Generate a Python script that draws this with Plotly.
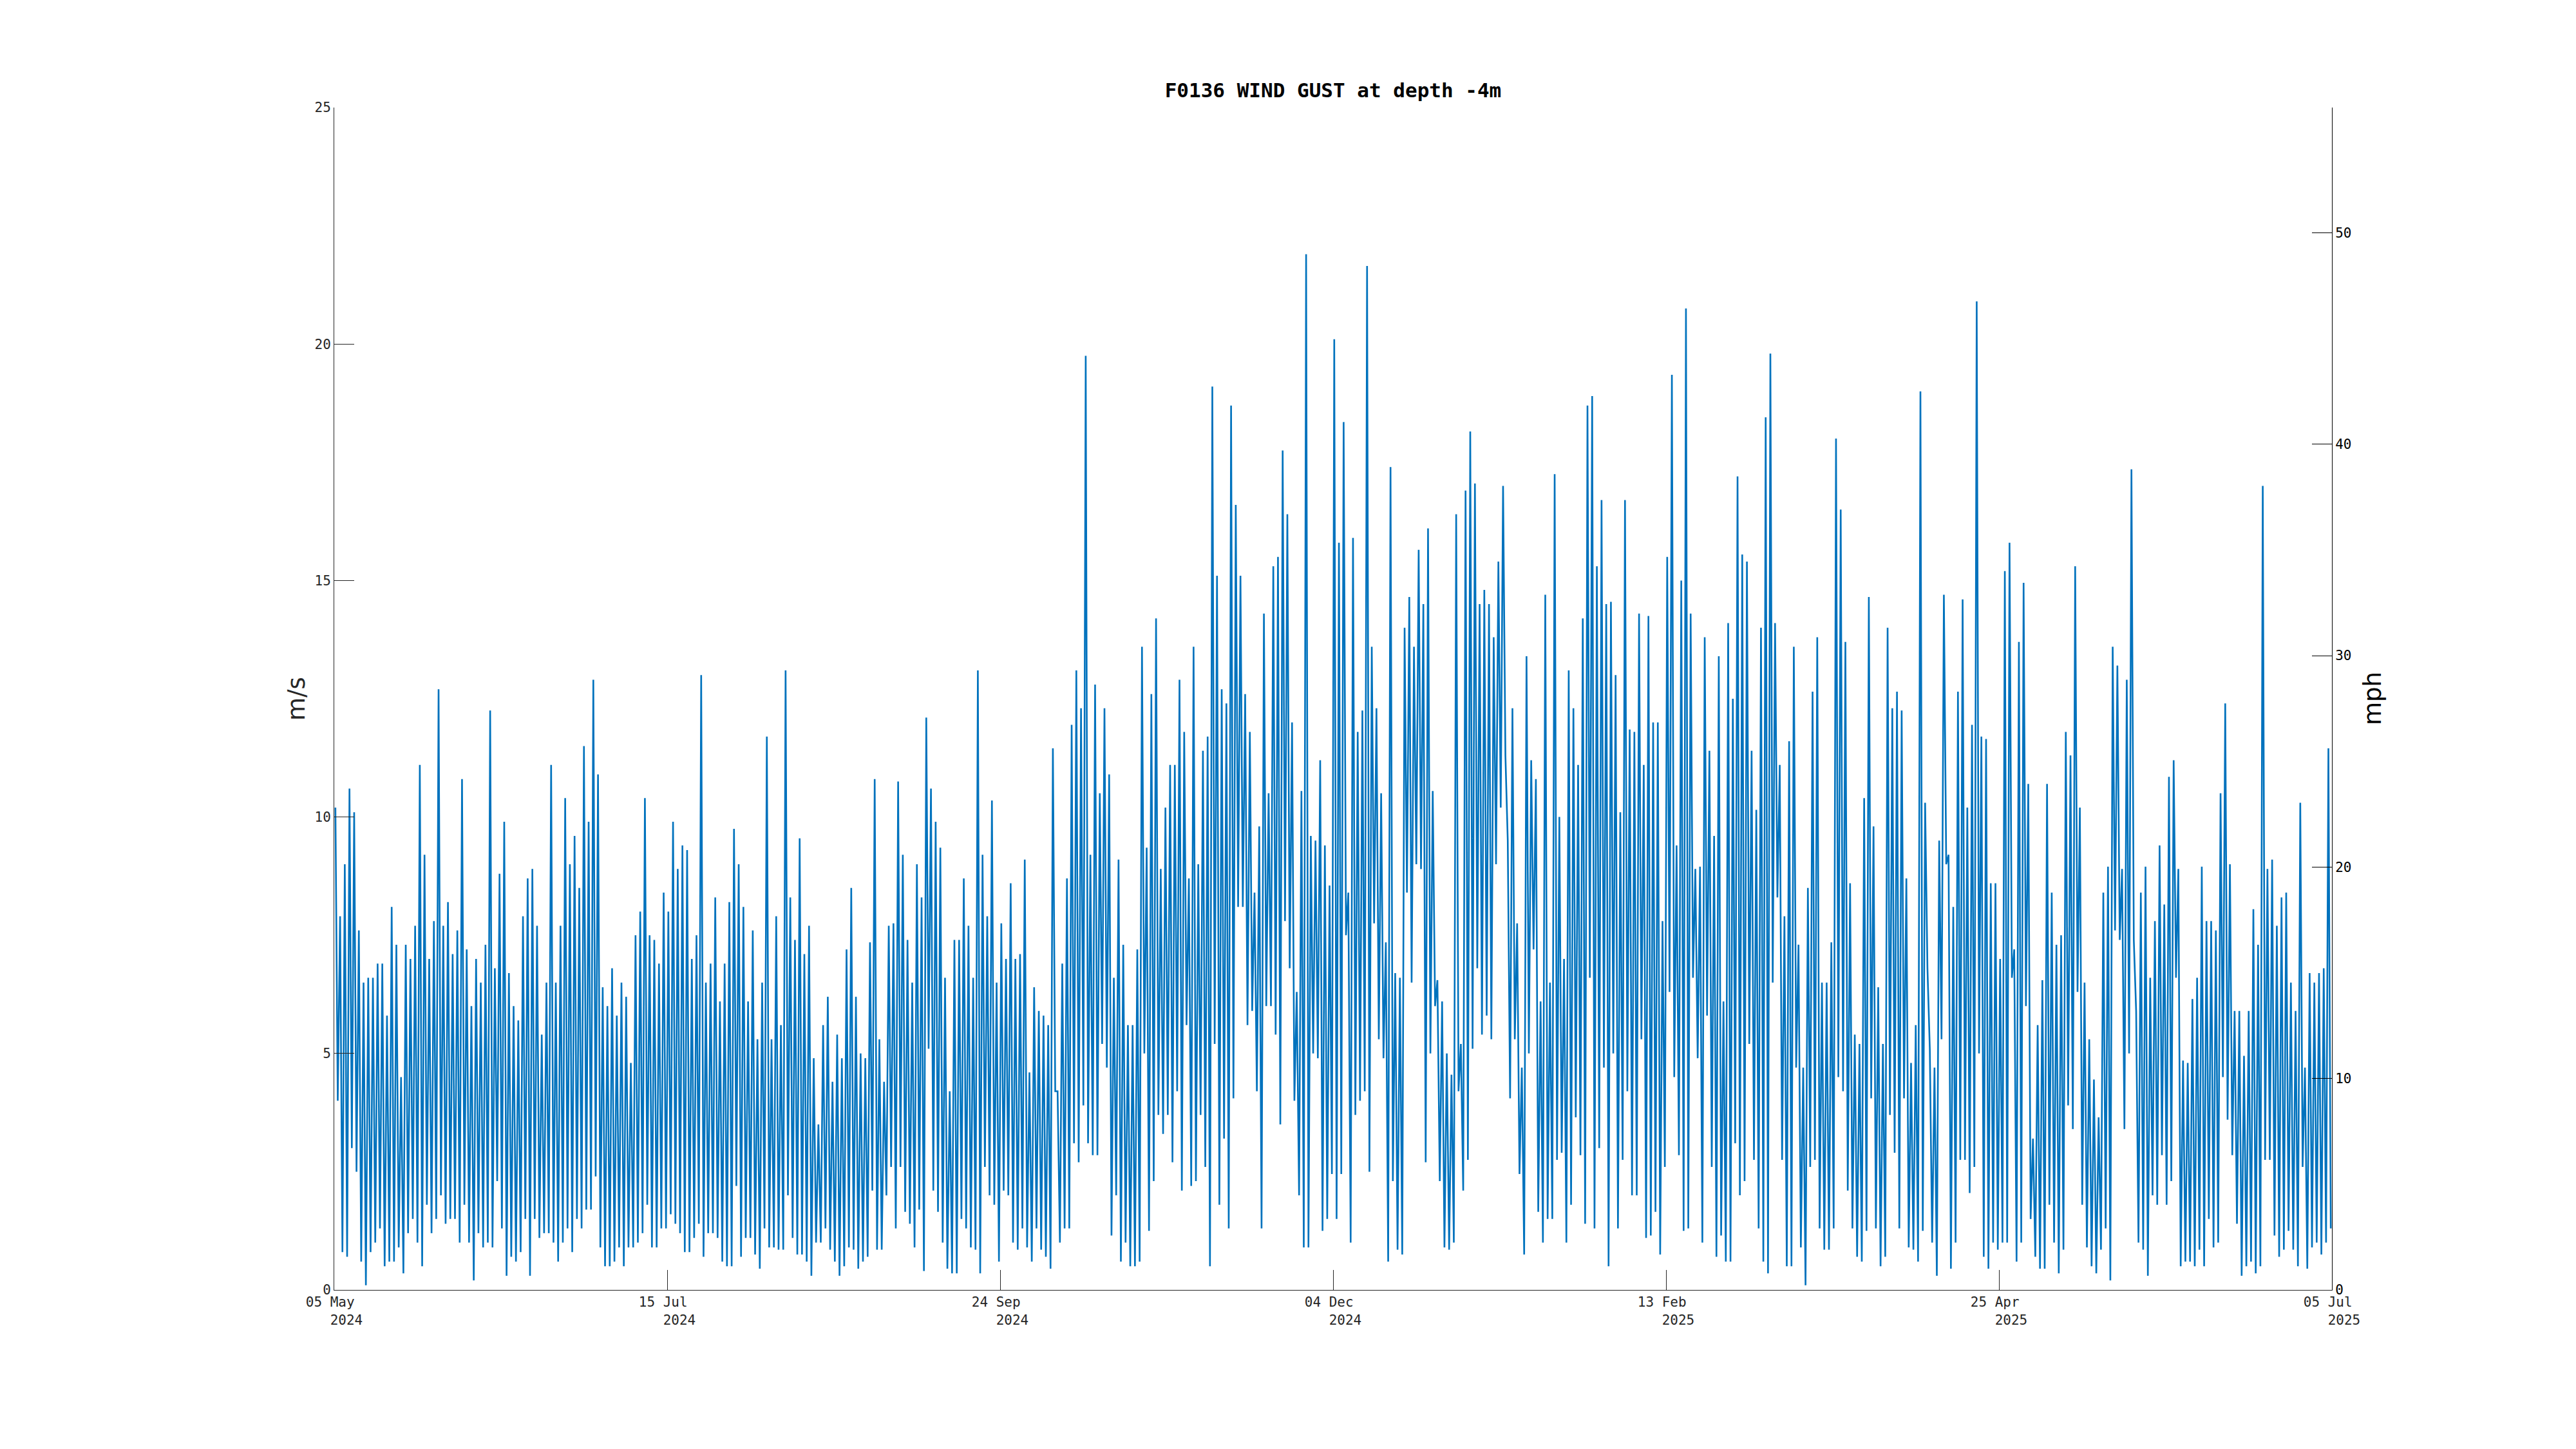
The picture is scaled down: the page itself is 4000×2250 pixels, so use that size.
import plotly.graph_objects as go
import pandas as pd

# ---------------- data: daily high / low wind gust (m/s) ----------------
hi_2024_05 = [10.2, 7.9, 9.0, 10.6, 10.1, 7.6, 6.5, 6.6, 6.6, 6.9, 6.9, 5.8, 8.1, 7.3, 4.5, 7.3, 7.0, 7.7, 11.1, 9.2,
              7.0, 7.8, 12.7, 7.7, 8.2, 7.1, 7.6]
lo_2024_05 = [4.0, 0.8, 0.7, 3.0, 2.5, 0.6, 0.1, 0.8, 1.0, 1.3, 0.5, 0.6, 0.6, 0.9, 0.35, 1.2, 1.5, 1.0, 0.5, 1.8,
              1.2, 1.5, 2.0, 1.4, 1.5, 1.5, 1.0]
hi_2024_06 = [10.8, 7.2, 6.0, 7.0, 6.5, 7.3, 12.25, 6.8, 8.8, 9.9, 6.7, 6.0, 5.7, 7.9, 8.7, 8.9, 7.7, 5.4, 6.5, 11.1,
              6.5, 7.7, 10.4, 9.0, 9.6, 8.5, 11.5, 9.9, 12.9, 10.9]
lo_2024_06 = [1.8, 1.0, 0.2, 1.2, 0.9, 1.0, 0.9, 2.3, 1.3, 0.3, 0.7, 0.6, 0.8, 1.5, 0.3, 1.5, 1.1, 1.2, 1.2, 1.0,
              0.6, 1.0, 1.3, 0.8, 1.5, 1.3, 1.7, 1.7, 2.4, 0.9]
hi_2024_07 = [6.4, 6.0, 6.8, 5.8, 6.5, 6.2, 4.8, 7.5, 8.0, 10.4, 7.5, 7.4, 6.9, 8.4, 8.0, 9.9, 8.9, 9.4, 9.3, 7.0,
              7.5, 13.0, 6.5, 6.9, 8.3, 6.1, 6.9, 8.2, 9.75, 9.0, 8.1]
lo_2024_07 = [0.5, 0.5, 0.6, 0.9, 0.5, 0.9, 0.9, 1.0, 1.2, 1.8, 0.9, 0.9, 1.3, 1.3, 1.6, 1.4, 1.2, 0.8, 0.8, 1.1,
              1.4, 0.7, 1.2, 1.2, 1.1, 0.6, 0.5, 0.5, 2.2, 0.7, 1.1]
hi_2024_08 = [6.1, 7.6, 5.3, 6.5, 11.7, 5.3, 7.9, 5.6, 13.1, 8.3, 7.4, 9.55, 7.1, 7.7, 4.9, 3.5, 5.6, 6.2, 4.4, 5.4,
              4.9, 7.2, 8.5, 6.2, 5.0, 4.9, 7.35, 10.8, 5.3, 4.4, 7.7]
lo_2024_08 = [1.1, 0.75, 0.45, 1.3, 0.9, 0.9, 0.85, 0.85, 2.0, 1.1, 0.75, 0.75, 0.6, 0.3, 1.0, 1.0, 1.3, 0.85, 0.6, 0.3,
              0.5, 0.9, 0.85, 0.45, 0.6, 0.7, 2.1, 0.85, 0.85, 2.0, 2.6]
hi_2024_09 = [7.75, 10.75, 9.2, 7.4, 6.5, 9.0, 8.3, 12.1, 10.6, 9.9, 9.35, 6.6, 4.2, 7.4, 7.4, 8.7, 7.7, 6.6, 13.1, 9.2,
              7.9, 10.35, 6.5, 7.75, 7.0, 8.6, 7.0, 7.1, 9.1, 4.6]
lo_2024_09 = [1.3, 2.6, 1.65, 1.4, 0.9, 1.7, 0.4, 5.1, 2.1, 1.65, 1.0, 0.45, 0.35, 0.35, 1.5, 1.3, 0.9, 0.85, 0.35, 2.6,
              2.0, 1.8, 0.6, 2.1, 2.0, 1.0, 0.85, 1.3, 0.9, 0.6]
hi_2024_10 = [6.4, 5.9, 5.8, 5.6, 11.45, 4.2, 6.9, 8.7, 11.95, 13.1, 12.3, 19.75, 9.2, 12.8, 10.5, 12.3, 10.9, 6.6, 9.1, 7.3,
              5.6, 5.6, 7.2, 13.6, 9.35, 12.6, 14.2, 8.9, 10.2, 11.1, 11.1]
lo_2024_10 = [1.3, 0.85, 0.7, 0.45, 4.2, 1.0, 1.3, 1.3, 3.1, 2.7, 3.9, 3.1, 2.85, 2.85, 5.2, 4.7, 1.15, 2.0, 0.6, 1.0,
              0.5, 0.5, 0.6, 5.0, 1.25, 2.3, 3.7, 3.3, 3.7, 2.7, 4.2]
hi_2024_11 = [12.9, 11.8, 8.7, 13.6, 9.0, 11.4, 11.7, 19.1, 15.1, 12.7, 12.4, 18.7, 16.6, 15.1, 12.6, 11.8, 8.4, 9.8, 14.3, 10.5,
              15.3, 15.5, 17.75, 16.4, 12.0, 6.3, 10.55, 21.9, 9.6, 9.5]
lo_2024_11 = [2.1, 5.6, 2.2, 2.3, 3.7, 2.6, 0.5, 5.2, 1.8, 3.2, 1.3, 4.05, 8.1, 8.1, 5.6, 5.9, 4.2, 1.3, 6.0, 6.0,
              5.4, 3.5, 7.8, 6.8, 4.0, 2.0, 0.9, 0.9, 5.0, 4.9]
hi_2024_12 = [11.2, 9.4, 8.55, 20.1, 15.8, 18.35, 8.4, 15.9, 11.8, 12.25, 21.65, 13.6, 12.3, 10.5, 7.35, 17.4, 6.7, 6.6, 14.0, 14.65,
              13.6, 15.65, 14.5, 16.1, 10.55, 6.55, 6.1, 5.0, 4.55, 16.4, 5.2]
lo_2024_12 = [1.25, 1.5, 2.45, 1.5, 2.45, 7.5, 1.0, 3.7, 4.0, 4.2, 2.5, 7.75, 5.3, 4.9, 0.6, 2.3, 0.85, 0.75, 8.4, 6.5,
              9.0, 8.9, 2.7, 5.0, 6.0, 2.3, 0.9, 0.85, 1.0, 4.2, 2.1]
hi_2025_01 = [16.9, 18.15, 17.05, 14.5, 14.8, 14.5, 13.8, 15.4, 17.0, 9.5, 12.3, 7.75, 4.7, 13.4, 11.2, 10.8, 6.1, 14.7, 6.5, 17.25,
              10.0, 7.0, 13.1, 12.3, 11.1, 14.2, 18.7, 18.9, 15.3, 16.7, 14.5]
lo_2025_01 = [2.75, 5.1, 6.8, 5.4, 5.8, 5.3, 9.0, 10.2, 11.3, 4.05, 5.3, 2.45, 0.75, 5.0, 7.2, 1.65, 1.0, 1.5, 1.5, 2.75,
              2.9, 1.0, 1.8, 3.65, 2.85, 1.4, 6.6, 1.3, 3.0, 4.7, 0.5]
hi_2025_02 = [14.55, 13.0, 10.1, 16.7, 11.85, 11.8, 14.3, 11.1, 14.25, 12.0, 12.0, 7.8, 15.5, 19.35, 9.4, 15.0, 20.75, 14.3, 8.9, 8.95,
              13.8, 11.4, 9.6, 13.4, 6.1, 14.1, 12.5, 17.2]
lo_2025_02 = [5.0, 1.3, 2.75, 4.2, 2.0, 2.0, 5.3, 1.1, 1.15, 1.65, 0.75, 2.6, 6.3, 4.5, 2.85, 1.25, 1.3, 6.6, 4.9, 1.0,
              5.8, 2.6, 0.7, 1.15, 0.6, 0.6, 3.1, 2.0]
hi_2025_03 = [15.55, 15.4, 11.4, 10.15, 14.0, 18.45, 19.8, 14.1, 11.1, 7.9, 11.6, 13.6, 7.3, 4.7, 8.5, 12.65, 13.8, 6.5, 6.5, 7.35,
              18.0, 16.5, 13.7, 8.6, 5.4, 5.2, 10.4, 14.65, 9.8, 6.4, 5.2]
lo_2025_03 = [2.3, 5.2, 2.75, 1.3, 0.6, 0.35, 6.5, 8.3, 2.75, 0.5, 0.5, 4.7, 0.9, 0.1, 2.6, 2.75, 1.3, 0.85, 0.85, 1.3,
              4.5, 4.2, 2.1, 1.3, 0.7, 0.6, 1.25, 4.05, 1.3, 0.5, 0.7]
hi_2025_04 = [14.0, 12.3, 12.65, 12.25, 8.7, 4.8, 5.6, 19.0, 10.3, 5.1, 4.7, 9.5, 14.7, 9.2, 8.1, 12.65, 14.6, 10.2, 11.95, 20.9,
              11.7, 11.65, 8.6, 8.6, 7.0, 15.2, 15.8, 7.2, 13.7, 14.95]
lo_2025_04 = [3.7, 2.9, 1.3, 4.05, 0.9, 0.85, 0.6, 1.25, 6.8, 1.0, 0.3, 5.3, 9.0, 0.45, 1.0, 2.75, 2.75, 2.05, 2.6, 5.0,
              0.7, 0.45, 1.0, 0.85, 1.0, 1.0, 6.6, 0.6, 1.0, 6.0]
hi_2025_05 = [10.7, 3.2, 5.6, 6.55, 10.7, 8.4, 7.3, 7.5, 11.8, 11.3, 15.3, 10.2, 6.5, 5.3, 4.45, 3.65, 8.4, 8.95, 13.6, 13.2,
              8.9, 12.9, 17.35, 5.9, 8.4, 8.95, 6.6, 7.8, 9.4, 8.15, 10.85]
lo_2025_05 = [1.5, 0.7, 0.45, 0.45, 1.8, 1.0, 0.35, 0.85, 3.9, 3.4, 6.3, 1.8, 0.9, 0.5, 0.35, 0.85, 1.3, 0.2, 7.6, 7.4,
              3.4, 5.0, 7.4, 1.0, 0.85, 0.3, 2.0, 1.8, 2.85, 1.8, 2.3]
hi_2025_06 = [11.2, 8.9, 4.85, 4.8, 6.15, 6.6, 8.95, 7.8, 7.8, 7.6, 10.5, 12.4, 9.0, 5.9, 5.9, 4.95, 5.9, 8.05, 7.3, 17.0,
              8.9, 9.1, 7.7, 8.3, 8.4, 6.5, 5.9, 10.3, 4.7, 6.7]
lo_2025_06 = [6.6, 0.5, 0.6, 0.6, 0.5, 0.85, 0.5, 1.5, 0.9, 1.0, 4.5, 3.6, 2.85, 1.4, 0.3, 0.5, 0.6, 0.35, 0.5, 2.75,
              2.75, 1.15, 0.7, 0.85, 1.25, 0.85, 0.5, 2.6, 0.45, 0.9]
hi_2025_07 = [6.5, 6.7, 6.8, 11.45]
lo_2025_07 = [1.0, 0.75, 1.0, 1.3]

start_date = "2024-05-05"
end_date = "2025-07-05"
tick_dates = ["2024-05-05", "2024-07-15", "2024-09-24", "2024-12-04", "2025-02-13", "2025-04-25", "2025-07-05"]
tick_day_month = ["05 May", "15 Jul", "24 Sep", "04 Dec", "13 Feb", "25 Apr", "05 Jul"]
tick_year = ["2024", "2024", "2024", "2024", "2025", "2025", "2025"]
ms_ticks = [0, 5, 10, 15, 20, 25]
mph_ticks = [0, 10, 20, 30, 40, 50]
MS_TO_MPH = 1 / 0.44704

# ---------------- build the series ----------------
gust_hi = (hi_2024_05 + hi_2024_06 + hi_2024_07 + hi_2024_08 + hi_2024_09 + hi_2024_10 + hi_2024_11 +
           hi_2024_12 + hi_2025_01 + hi_2025_02 + hi_2025_03 + hi_2025_04 + hi_2025_05 + hi_2025_06 + hi_2025_07)
gust_lo = (lo_2024_05 + lo_2024_06 + lo_2024_07 + lo_2024_08 + lo_2024_09 + lo_2024_10 + lo_2024_11 +
           lo_2024_12 + lo_2025_01 + lo_2025_02 + lo_2025_03 + lo_2025_04 + lo_2025_05 + lo_2025_06 + lo_2025_07)

t0 = pd.Timestamp(start_date)
times, vals = [], []
for d, (h, l) in enumerate(zip(gust_hi, gust_lo)):
    times.append(t0 + pd.Timedelta(days=d, hours=6))
    vals.append(h)
    times.append(t0 + pd.Timedelta(days=d, hours=18))
    vals.append(l)

AX = "#262626"
MONO = "DejaVu Sans Mono"
NB = "\u00a0"

fig = go.Figure()
fig.add_trace(go.Scatter(x=times, y=vals, mode="lines",
                         line=dict(color="#0072BD", width=2.6), hoverinfo="skip", showlegend=False))
fig.add_trace(go.Scatter(x=times, y=[v * MS_TO_MPH for v in vals], yaxis="y2", mode="lines",
                         line=dict(color="rgba(0,0,0,0)", width=0), hoverinfo="skip", showlegend=False))

ticktext = [dm + NB + "<br>" + NB * 3 + yr for dm, yr in zip(tick_day_month, tick_year)]

# the page body adds an 8 px offset, so margins are reduced by 8 px on the top/left
fig.update_layout(
    width=4000, height=2250, autosize=False,
    paper_bgcolor="white", plot_bgcolor="white",
    margin=dict(l=511, r=387, t=159, b=255),
    title=dict(text="<b>F0136 WIND GUST at depth -4m</b>", x=0.5, xref="paper", xanchor="center",
               y=1 - 132 / 2250, yref="container", yanchor="middle",
               font=dict(family=MONO, size=31, color="black")),
    xaxis=dict(type="date", range=[start_date, end_date], tickvals=tick_dates, ticktext=ticktext,
               showline=True, linecolor=AX, linewidth=1, ticks="inside", ticklen=31, tickwidth=1, tickcolor=AX,
               showgrid=False, zeroline=False, tickfont=dict(family=MONO, size=21, color=AX)),
    yaxis=dict(range=[0, 25], tickvals=ms_ticks, showline=True, linecolor=AX, linewidth=1,
               ticks="inside", ticklen=31, tickwidth=1, tickcolor=AX, showgrid=False, zeroline=False,
               tickfont=dict(family=MONO, size=21, color=AX)),
    yaxis2=dict(range=[0, 25 * MS_TO_MPH], tickvals=mph_ticks, overlaying="y", side="right",
                showline=True, linecolor="black", linewidth=1, ticks="inside", ticklen=31, tickwidth=1,
                tickcolor="black", showgrid=False, zeroline=False,
                tickfont=dict(family=MONO, size=21, color="black")),
    annotations=[
        dict(text="m/s", xref="paper", yref="paper", x=(460 - 519) / 3102, y=0.5, textangle=-90,
             showarrow=False, xanchor="center", yanchor="middle",
             font=dict(family="DejaVu Sans", size=37, color=AX)),
        dict(text="mph", xref="paper", yref="paper", x=(3684 - 519) / 3102, y=0.5, textangle=-90,
             showarrow=False, xanchor="center", yanchor="middle",
             font=dict(family="DejaVu Sans", size=37, color="black")),
    ],
)

fig.write_html("out.html")
